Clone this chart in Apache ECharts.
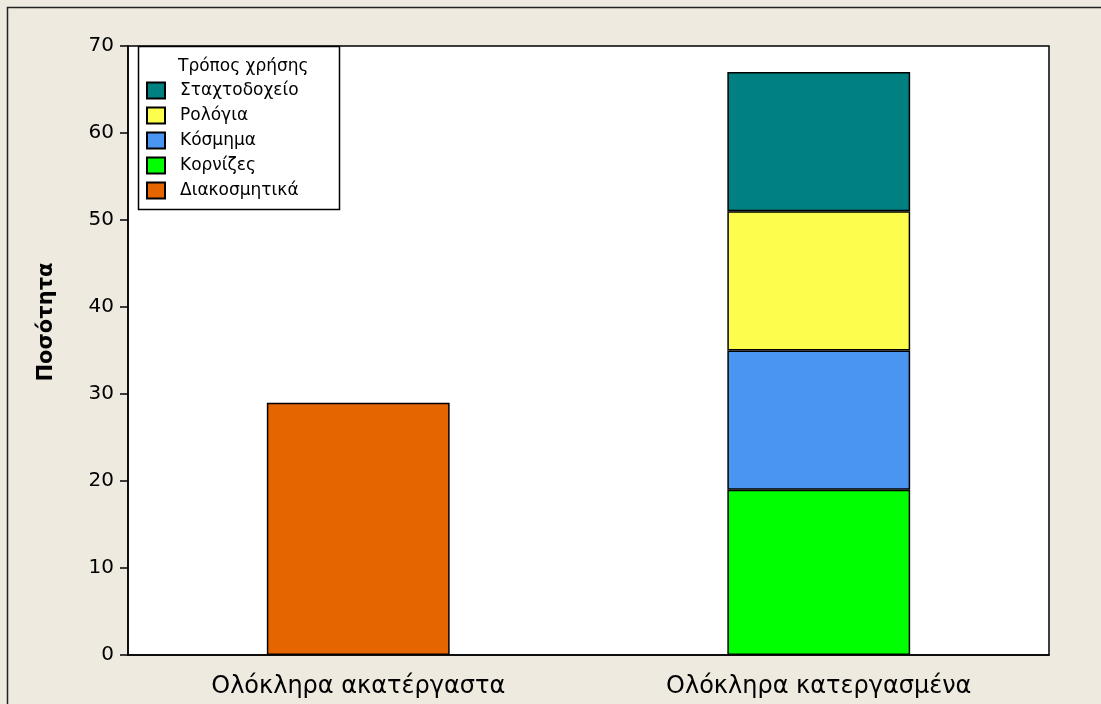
<!DOCTYPE html>
<html>
<head>
<meta charset="utf-8">
<script src="https://cdn.jsdelivr.net/npm/echarts@6/dist/echarts.min.js"></script>
<style>
  html, body { margin: 0; padding: 0; background: #EEEAE0; }
  #chart { width: 1101px; height: 704px; }
</style>
</head>
<body>
<div id="chart"></div>
<script>
// Categories on the x axis
const categories = ['Ολόκληρα ακατέργαστα', 'Ολόκληρα κατεργασμένα'];

// Quantities per usage type (stacked)
const decorative = [29, '-'];   // Διακοσμητικά
const frames = ['-', 19];       // Κορνίζες
const jewellery = ['-', 16];    // Κόσμημα
const clocks = ['-', 16];       // Ρολόγια
const ashtrays = ['-', 16];     // Σταχτοδοχείο

const yTicks = { min: 0, max: 70, interval: 10 };

const legendOrder = ['Σταχτοδοχείο', 'Ρολόγια', 'Κόσμημα', 'Κορνίζες', 'Διακοσμητικά'];

const font = 'Tahoma, "DejaVu Sans", Verdana, sans-serif';

function bar(name, data, color) {
  return {
    name: name,
    type: 'bar',
    stack: 'total',
    data: data,
    barWidth: '39.7%',
    itemStyle: { color: color, borderColor: '#000', borderWidth: 1.5 },
    emphasis: { disabled: true }
  };
}

const chart = echarts.init(document.getElementById('chart'), null, { renderer: 'canvas' });
chart.setOption({
  backgroundColor: '#EEEAE0',
  animation: false,
  grid: { left: 128, top: 46, right: 52, bottom: 49, containLabel: false, show: true, backgroundColor: '#fff', borderColor: '#000', borderWidth: 1.5 },
  graphic: [
    { type: 'rect', shape: { x: 7.5, y: 7.5, width: 1120, height: 720 }, style: { fill: 'none', stroke: '#222', lineWidth: 1.5 }, silent: true },
    { type: 'rect', shape: { x: 138.5, y: 46.5, width: 201, height: 163 }, style: { fill: '#fff', stroke: '#000', lineWidth: 1.5 }, z: 5, silent: true },
    { type: 'text', left: 178, top: 58, z: 6, style: { text: 'Τρόπος χρήσης', font: '17px ' + font, fill: '#000' }, silent: true },
    // Axis title, placed by hand so it sits a little above the plot centre
    { type: 'text', x: 47, y: 322, rotation: Math.PI / 2, z: 6,
      style: { text: 'Ποσότητα', font: 'bold 21px ' + font, fill: '#000', align: 'center', verticalAlign: 'middle' }, silent: true }
  ],
  legend: {
    data: legendOrder,
    orient: 'vertical',
    left: 141,
    top: 76,
    padding: 5,
    itemWidth: 18,
    itemHeight: 16,
    itemGap: 6,
    icon: 'rect',
    selectedMode: false,
    z: 7,
    textStyle: { fontFamily: font, fontSize: 17, lineHeight: 19, color: '#000', padding: [0, 0, 0, 10] }
  },
  xAxis: {
    type: 'category',
    data: categories,
    axisLine: { show: true, lineStyle: { color: '#000', width: 1.5 } },
    axisTick: { show: false },
    axisLabel: { fontFamily: font, fontSize: 24, color: '#000', margin: 20 }
  },
  yAxis: {
    type: 'value',
    min: yTicks.min,
    max: yTicks.max,
    interval: yTicks.interval,
    axisLine: { show: true, lineStyle: { color: '#000', width: 1.5 } },
    axisTick: { show: true, inside: false, length: 8, lineStyle: { color: '#000', width: 1.5 } },
    axisLabel: { fontFamily: font, fontSize: 20, color: '#000', margin: 14 },
    splitLine: { show: false }
  },
  series: [
    bar('Διακοσμητικά', decorative, '#E56500'),
    bar('Κορνίζες', frames, '#00FF00'),
    bar('Κόσμημα', jewellery, '#4A94F2'),
    bar('Ρολόγια', clocks, '#FDFD4D'),
    bar('Σταχτοδοχείο', ashtrays, '#008080')
  ]
});
</script>
</body>
</html>
